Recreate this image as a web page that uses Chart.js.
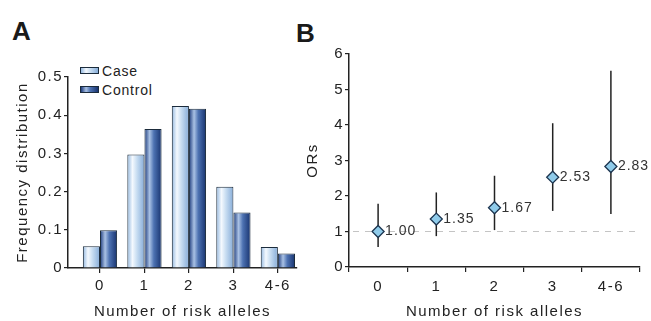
<!DOCTYPE html>
<html>
<head>
<meta charset="utf-8">
<script src="https://cdn.jsdelivr.net/npm/chart.js@4"></script>
<style>
  body { margin: 0; background: #fff; width: 651px; height: 321px; overflow: hidden; position: relative; font-family: "Liberation Sans", Arial, sans-serif; }
  canvas { position: absolute; top: 0; }
  #panelA { left: 0; }
  #panelB { left: 300px; }
  .letter { position: absolute; font-weight: bold; font-size: 26px; color: #1a1a1a; line-height: 1; }
  .legend { position: absolute; left: 80px; top: 61px; font-size: 14px; letter-spacing: 0.8px; color: #222; }
  .legend div { height: 19px; display: flex; align-items: center; }
  .legend span.box { display: inline-block; width: 17px; height: 5px; border: 1px solid #1b2b3b; margin-right: 3px; }
</style>
</head>
<body>
<div class="letter" style="left:12px; top:18px;">A</div>
<div class="letter" style="left:296px; top:20px;">B</div>
<div class="legend" id="legend"></div>
<canvas id="panelA" width="300" height="321"></canvas>
<canvas id="panelB" width="351" height="321"></canvas>
<script>
// values
const categories = ['0', '1', '2', '3', '4-6'];
const seriesNames = ['Case', 'Control'];
const caseFreq = [0.057, 0.297, 0.424, 0.213, 0.055];
const controlFreq = [0.099, 0.364, 0.417, 0.145, 0.038];
const orValues = [1.00, 1.35, 1.67, 2.53, 2.83];
const orLower = [0.56, 0.87, 1.04, 1.58, 1.49];
const orUpper = [1.78, 2.10, 2.57, 4.05, 5.53];

const FONT = "'Liberation Sans', Arial, sans-serif";
const INK = '#222';

const caseStops = [[0, '#93b8e0'], [0.3, '#f4f9fe'], [0.55, '#c9def2'], [1, '#86acd8']];
const controlStops = [[0, '#1c3a7c'], [0.3, '#a9c1e4'], [0.55, '#4d72b2'], [1, '#18336f']];

// legend (html, gradient boxes)
const legendEl = document.getElementById('legend');
[caseStops, controlStops].forEach((stops, i) => {
    const row = document.createElement('div');
    const box = document.createElement('span');
    box.className = 'box';
    box.style.background = 'linear-gradient(to right,' + stops.map(s => s[1] + ' ' + (s[0] * 100) + '%').join(',') + ')';
    row.appendChild(box);
    row.appendChild(document.createTextNode(seriesNames[i]));
    legendEl.appendChild(row);
});

// the figure's lettering is set wide
const wideText = {
    id: 'wideText',
    beforeUpdate(chart) { chart.ctx.letterSpacing = '1.5px'; },
    beforeDraw(chart) { chart.ctx.letterSpacing = '1.5px'; }
};

// horizontal gradient on every bar
const barGradient = {
    id: 'barGradient',
    beforeDatasetsDraw(chart) {
        const ctx = chart.ctx;
        chart.data.datasets.forEach((ds, d) => {
            const stops = d === 0 ? caseStops : controlStops;
            chart.getDatasetMeta(d).data.forEach((el) => {
                const g = ctx.createLinearGradient(el.x - el.width / 2, 0, el.x + el.width / 2, 0);
                stops.forEach(s => g.addColorStop(s[0], s[1]));
                el.options = Object.assign({}, el.options, { backgroundColor: g });
            });
        });
    }
};

const tickFont = { family: FONT, size: 15 };

new Chart(document.getElementById('panelA'), {
    type: 'bar',
    data: {
        datasets: [
            { label: seriesNames[0], data: categories.map((c, i) => ({ x: i, y: caseFreq[i] })), borderColor: '#1b2b3b', borderWidth: 1 },
            { label: seriesNames[1], data: categories.map((c, i) => ({ x: i, y: controlFreq[i] })), borderColor: '#1b2b3b', borderWidth: 1 },
        ],
    },
    options: {
        responsive: false,
        animation: false,
        devicePixelRatio: 1,
        categoryPercentage: 0.77,
        barPercentage: 1,
        layout: { padding: { left: 14, top: 77, right: 3, bottom: 0 } },
        plugins: { legend: { display: false }, tooltip: { enabled: false } },
        scales: {
            x: {
                type: 'linear',
                offset: false,
                min: -0.719,
                max: 4.43,
                afterBuildTicks: (scale) => { scale.ticks = categories.map((c, i) => ({ value: i })); },
                afterFit: (scale) => { scale.height = 53; },
                ticks: { callback: (v) => categories[v], font: tickFont, color: INK, padding: 4, maxRotation: 0 },
                grid: { offset: false, drawOnChartArea: false, drawTicks: true, tickLength: 5, color: INK, lineWidth: 1.2 },
                border: { color: INK, width: 1.5 },
                title: { display: true, text: 'Number of risk alleles', font: tickFont, color: INK, padding: 0 },
            },
            y: {
                min: 0,
                max: 0.5,
                afterFit: (scale) => { scale.width = 54; },
                ticks: { stepSize: 0.1, font: tickFont, color: INK, padding: 1 },
                grid: { drawOnChartArea: false, drawTicks: true, tickLength: 4, color: INK, lineWidth: 1.2 },
                border: { color: INK, width: 1.5 },
                title: { display: true, text: 'Frequency distribution', font: tickFont, color: INK, padding: 0 },
            },
        },
    },
    plugins: [wideText, barGradient],
});

// reference line at OR = 1 and the confidence intervals
const orExtras = {
    id: 'orExtras',
    beforeDatasetsDraw(chart) {
        const ctx = chart.ctx;
        const y = chart.scales.y;
        const area = chart.chartArea;
        ctx.save();
        ctx.strokeStyle = '#c4c4c4';
        ctx.lineWidth = 1;
        ctx.setLineDash([6, 6]);
        ctx.beginPath();
        ctx.moveTo(area.left + 4, y.getPixelForValue(1));
        ctx.lineTo(area.right, y.getPixelForValue(1));
        ctx.stroke();
        ctx.setLineDash([]);
        ctx.strokeStyle = INK;
        ctx.lineWidth = 1.5;
        chart.getDatasetMeta(0).data.forEach((pt, i) => {
            ctx.beginPath();
            ctx.moveTo(pt.x, y.getPixelForValue(orLower[i]));
            ctx.lineTo(pt.x, y.getPixelForValue(orUpper[i]));
            ctx.stroke();
        });
        ctx.restore();
    },
    afterDatasetsDraw(chart) {
        const ctx = chart.ctx;
        ctx.save();
        ctx.letterSpacing = '1px';
        ctx.font = '14px ' + FONT;
        ctx.fillStyle = '#333';
        ctx.textAlign = 'left';
        ctx.textBaseline = 'middle';
        chart.getDatasetMeta(0).data.forEach((pt, i) => {
            ctx.fillText(orValues[i].toFixed(2), pt.x + 7, pt.y);
        });
        ctx.restore();
    }
};

new Chart(document.getElementById('panelB'), {
    type: 'line',
    data: {
        labels: categories,
        datasets: [{
            label: 'ORs',
            data: orValues,
            showLine: false,
            pointStyle: 'rectRot',
            pointRadius: 6,
            backgroundColor: '#8fcbea',
            borderColor: '#1d3550',
            borderWidth: 1.3,
        }],
    },
    options: {
        responsive: false,
        animation: false,
        devicePixelRatio: 1,
        layout: { padding: { left: 4, top: 54, right: 11, bottom: 0 } },
        plugins: { legend: { display: false }, tooltip: { enabled: false } },
        scales: {
            x: {
                offset: true,
                afterFit: (scale) => { scale.height = 54; },
                ticks: { font: tickFont, color: INK, padding: 6, maxRotation: 0 },
                grid: { offset: true, drawOnChartArea: false, drawTicks: true, tickLength: 5, color: INK, lineWidth: 1.2 },
                border: { color: INK, width: 1.5 },
                title: { display: true, text: 'Number of risk alleles', font: tickFont, color: INK, padding: 0 },
            },
            y: {
                min: 0,
                max: 6,
                afterFit: (scale) => { scale.width = 45; },
                ticks: { stepSize: 1, font: tickFont, color: INK, padding: 1 },
                grid: { drawOnChartArea: false, drawTicks: true, tickLength: 4, color: INK, lineWidth: 1.2 },
                border: { color: INK, width: 1.5 },
                title: { display: true, text: 'ORs', font: tickFont, color: INK, padding: 0 },
            },
        },
    },
    plugins: [wideText, orExtras],
});
</script>
</body>
</html>
